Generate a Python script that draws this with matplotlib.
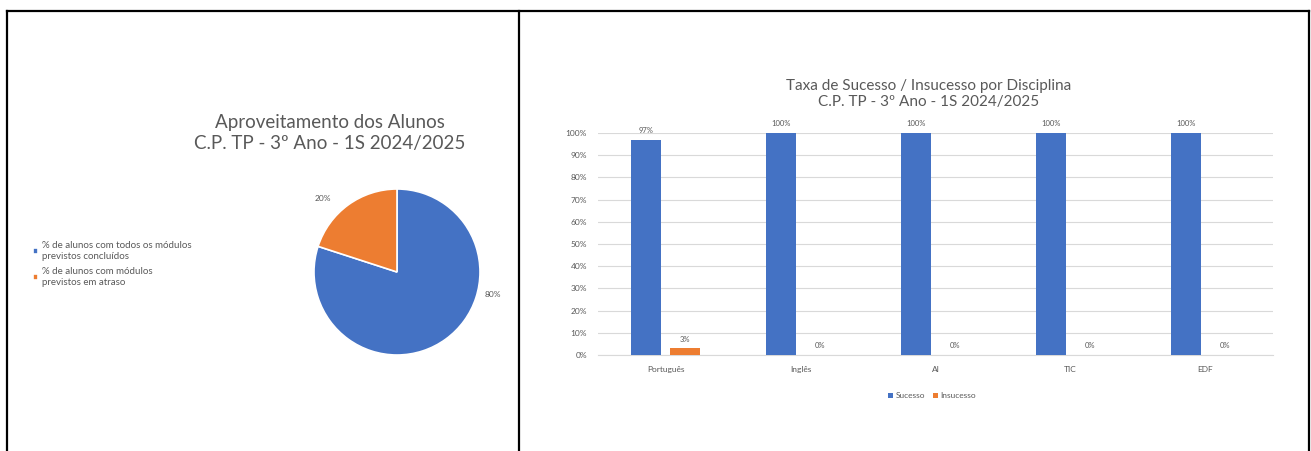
import matplotlib
matplotlib.use("Agg")
import matplotlib.pyplot as plt
from matplotlib.lines import Line2D
from matplotlib.ticker import PercentFormatter
import numpy as np

# dados
pie_labels = ["% de alunos com todos os módulos\nprevistos concluídos",
              "% de alunos com módulos\nprevistos em atraso"]
pie_values = [80, 20]

disciplinas = ["Português", "Inglês", "AI", "TIC", "EDF"]
sucesso = [0.97, 1.00, 1.00, 1.00, 1.00]
insucesso = [0.03, 0.00, 0.00, 0.00, 0.00]

BLUE = "#4472C4"
ORANGE = "#ED7D31"
GREY = "#595959"
W, H = 1311, 451

plt.rcParams["font.family"] = ["Lato", "DejaVu Sans"]

fig = plt.figure(figsize=(W / 100, H / 100), dpi=100)


def fx(px):
    return px / W


def fy(py):
    return 1 - py / H


# moldura da tabela
for xs, ys in [((7, 1309), (11, 11)), ((7, 7), (11, 451)),
               ((519, 519), (11, 451)), ((1309, 1309), (11, 451))]:
    fig.add_artist(Line2D([fx(x) for x in xs], [fy(y) for y in ys],
                          color="black", lw=1.6))

# --- gráfico circular ---
cx, cy, r = 397, 272, 83
axp = fig.add_axes([fx(cx - r), fy(cy + r), fx(2 * r), 2 * r / H])
wedges, _ = axp.pie(pie_values, colors=[BLUE, ORANGE], startangle=162,
                    counterclock=True,
                    wedgeprops=dict(edgecolor="white", linewidth=1.2))
axp.set_aspect("equal")
axp.set_xlim(-1, 1)
axp.set_ylim(-1, 1)
axp.text(1.16, -0.27, f"{pie_values[0]}%", fontsize=6, color=GREY,
         ha="center", va="center", clip_on=False)
axp.text(-0.89, 0.89, f"{pie_values[1]}%", fontsize=6, color=GREY,
         ha="center", va="center", clip_on=False)

fig.text(fx(330), fy(133), "Aproveitamento dos Alunos\nC.P. TP - 3º Ano - 1S 2024/2025",
         ha="center", va="center", fontsize=13.5, color=GREY, linespacing=1.3)

fig.legend(wedges, pie_labels, loc="center left",
           bbox_to_anchor=(fx(24), fy(264)), frameon=False, fontsize=7,
           labelcolor=GREY, handlelength=0.55, handleheight=0.55,
           handletextpad=0.4, labelspacing=0.7)

# --- gráfico de barras ---
axb = fig.add_axes([fx(598), fy(355), fx(675), 222 / H])
x = np.arange(len(disciplinas))
bw = 0.22
b1 = axb.bar(x - 0.145, sucesso, bw, color=BLUE, label="Sucesso", zorder=3)
b2 = axb.bar(x + 0.145, insucesso, bw, color=ORANGE, label="Insucesso", zorder=3)
axb.bar_label(b1, labels=[f"{v:.0%}" for v in sucesso], padding=4,
              fontsize=5.5, color=GREY)
axb.bar_label(b2, labels=[f"{v:.0%}" for v in insucesso], padding=4,
              fontsize=5.5, color=GREY)

axb.set_xlim(-0.5, len(disciplinas) - 0.5)
axb.set_ylim(0, 1)
axb.set_yticks(np.arange(0, 1.01, 0.1))
axb.yaxis.set_major_formatter(PercentFormatter(1, decimals=0))
axb.set_xticks(x)
axb.set_xticklabels(disciplinas)
axb.tick_params(axis="both", length=0, labelsize=6, colors=GREY, pad=8)
axb.grid(axis="y", color="#D9D9D9", lw=0.8, zorder=0)
for s in ["top", "right", "left"]:
    axb.spines[s].set_visible(False)
axb.spines["bottom"].set_color("#D9D9D9")

fig.text(fx(929), fy(94), "Taxa de Sucesso / Insucesso por Disciplina\nC.P. TP - 3º Ano - 1S 2024/2025",
         ha="center", va="center", fontsize=11, color=GREY, linespacing=1.1)

fig.legend([b1, b2], ["Sucesso", "Insucesso"], loc="center",
           bbox_to_anchor=(fx(932), fy(396)), ncol=2, frameon=False,
           fontsize=6, labelcolor=GREY, handlelength=0.6, handleheight=0.6,
           handletextpad=0.3, columnspacing=1.0)

fig.savefig("out.png", dpi=100)
